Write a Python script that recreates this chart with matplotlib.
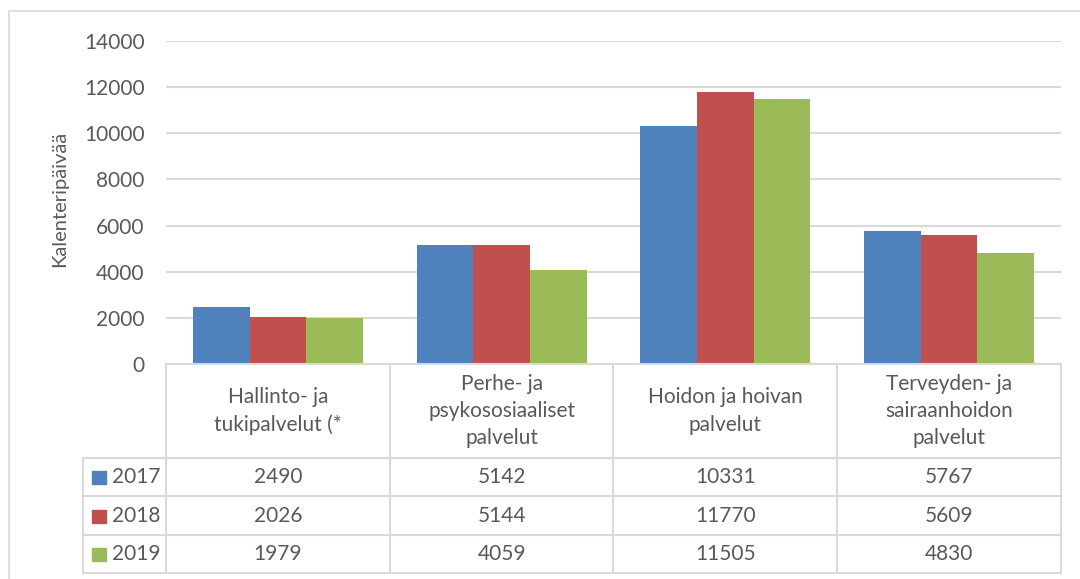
import matplotlib
matplotlib.use("Agg")
import matplotlib.pyplot as plt
from matplotlib.lines import Line2D
from matplotlib.patches import Rectangle
import numpy as np

categories = ["Hallinto- ja\ntukipalvelut (*",
              "Perhe- ja\npsykososiaaliset\npalvelut",
              "Hoidon ja hoivan\npalvelut",
              "Terveyden- ja\nsairaanhoidon\npalvelut"]
years = ["2017", "2018", "2019"]
v2017 = [2490, 5142, 10331, 5767]
v2018 = [2026, 5144, 11770, 5609]
v2019 = [1979, 4059, 11505, 4830]
series = [v2017, v2018, v2019]
colors = ["#4F81BD", "#C0504D", "#9BBB59"]
yticks = [0, 2000, 4000, 6000, 8000, 10000, 12000, 14000]
ylabel = "Kalenteripäivää"

W, H = 1080, 579
plt.rcParams['font.family'] = ['Lato', 'DejaVu Sans']
TXT = "#595959"
GRID = "#D9D9D9"
FS = 15

fig = plt.figure(figsize=(W / 100, H / 100), dpi=100)

def fx(px):
    return px / W

def fy(py):
    return 1 - py / H

# plot area
L, R, T, B = 166, 1061, 41, 364
ax = fig.add_axes([fx(L), fy(B), fx(R) - fx(L), fy(T) - fy(B)])
n = len(categories)
x = np.arange(n)
bw = 0.253
for i, (vals, c) in enumerate(zip(series, colors)):
    ax.bar(x + (i - 1) * bw, vals, width=bw, color=c, zorder=3, label=years[i])
ax.set_xlim(-0.5, n - 0.5)
ax.set_ylim(0, 14000)
ax.set_yticks(yticks)
ax.set_yticklabels([str(t) for t in yticks], fontsize=FS, color=TXT)
ax.tick_params(axis='y', length=0, pad=15.5)
ax.set_xticks([])
ax.grid(axis='y', color=GRID, linewidth=1.5, zorder=0)
for s in ax.spines.values():
    s.set_visible(False)

fig.text(fx(60), fy(199), ylabel, rotation=90, ha='center', va='center',
         fontsize=14.5, color=TXT)

# data table
trans = ax.get_xaxis_transform()
row_y = [364, 458, 496, 535, 573]
col_lines = [L, 390, 613, 837, R]
lw = 1.5
fig.add_artist(Line2D([fx(L), fx(R)], [fy(364), fy(364)], color=GRID, lw=lw))
for yy in row_y[1:]:
    fig.add_artist(Line2D([fx(83), fx(R)], [fy(yy), fy(yy)], color=GRID, lw=lw))
for xx in col_lines:
    fig.add_artist(Line2D([fx(xx), fx(xx)], [fy(364), fy(573)], color=GRID, lw=lw))
fig.add_artist(Line2D([fx(83), fx(83)], [fy(458), fy(573)], color=GRID, lw=lw))

# category header texts
for i, cat in enumerate(categories):
    ax.text(x[i], -(411 - B) / (B - T), cat, transform=trans, ha='center',
            va='center', fontsize=FS, color=TXT, linespacing=1.45, clip_on=False)

# values rows
for r, vals in enumerate(series):
    yc = (row_y[r + 1] + row_y[r + 2]) / 2
    yax = -(yc - B) / (B - T)
    for i, v in enumerate(vals):
        ax.text(x[i], yax, str(v), transform=trans, ha='center', va='center',
                fontsize=FS, color=TXT, clip_on=False)
    fig.add_artist(Rectangle((fx(92), fy(yc + 7)), fx(14), fy(0) - fy(13),
                             color=colors[r]))
    fig.text(fx(112), fy(yc), years[r], ha='left', va='center', fontsize=FS,
             color=TXT)

# outer border (top and left)
fig.add_artist(Line2D([fx(9), fx(1080)], [fy(11), fy(11)], color=GRID, lw=1.2))
fig.add_artist(Line2D([fx(9), fx(9)], [fy(11), fy(579)], color=GRID, lw=1.2))

fig.savefig("out.png", dpi=100, facecolor="white")
